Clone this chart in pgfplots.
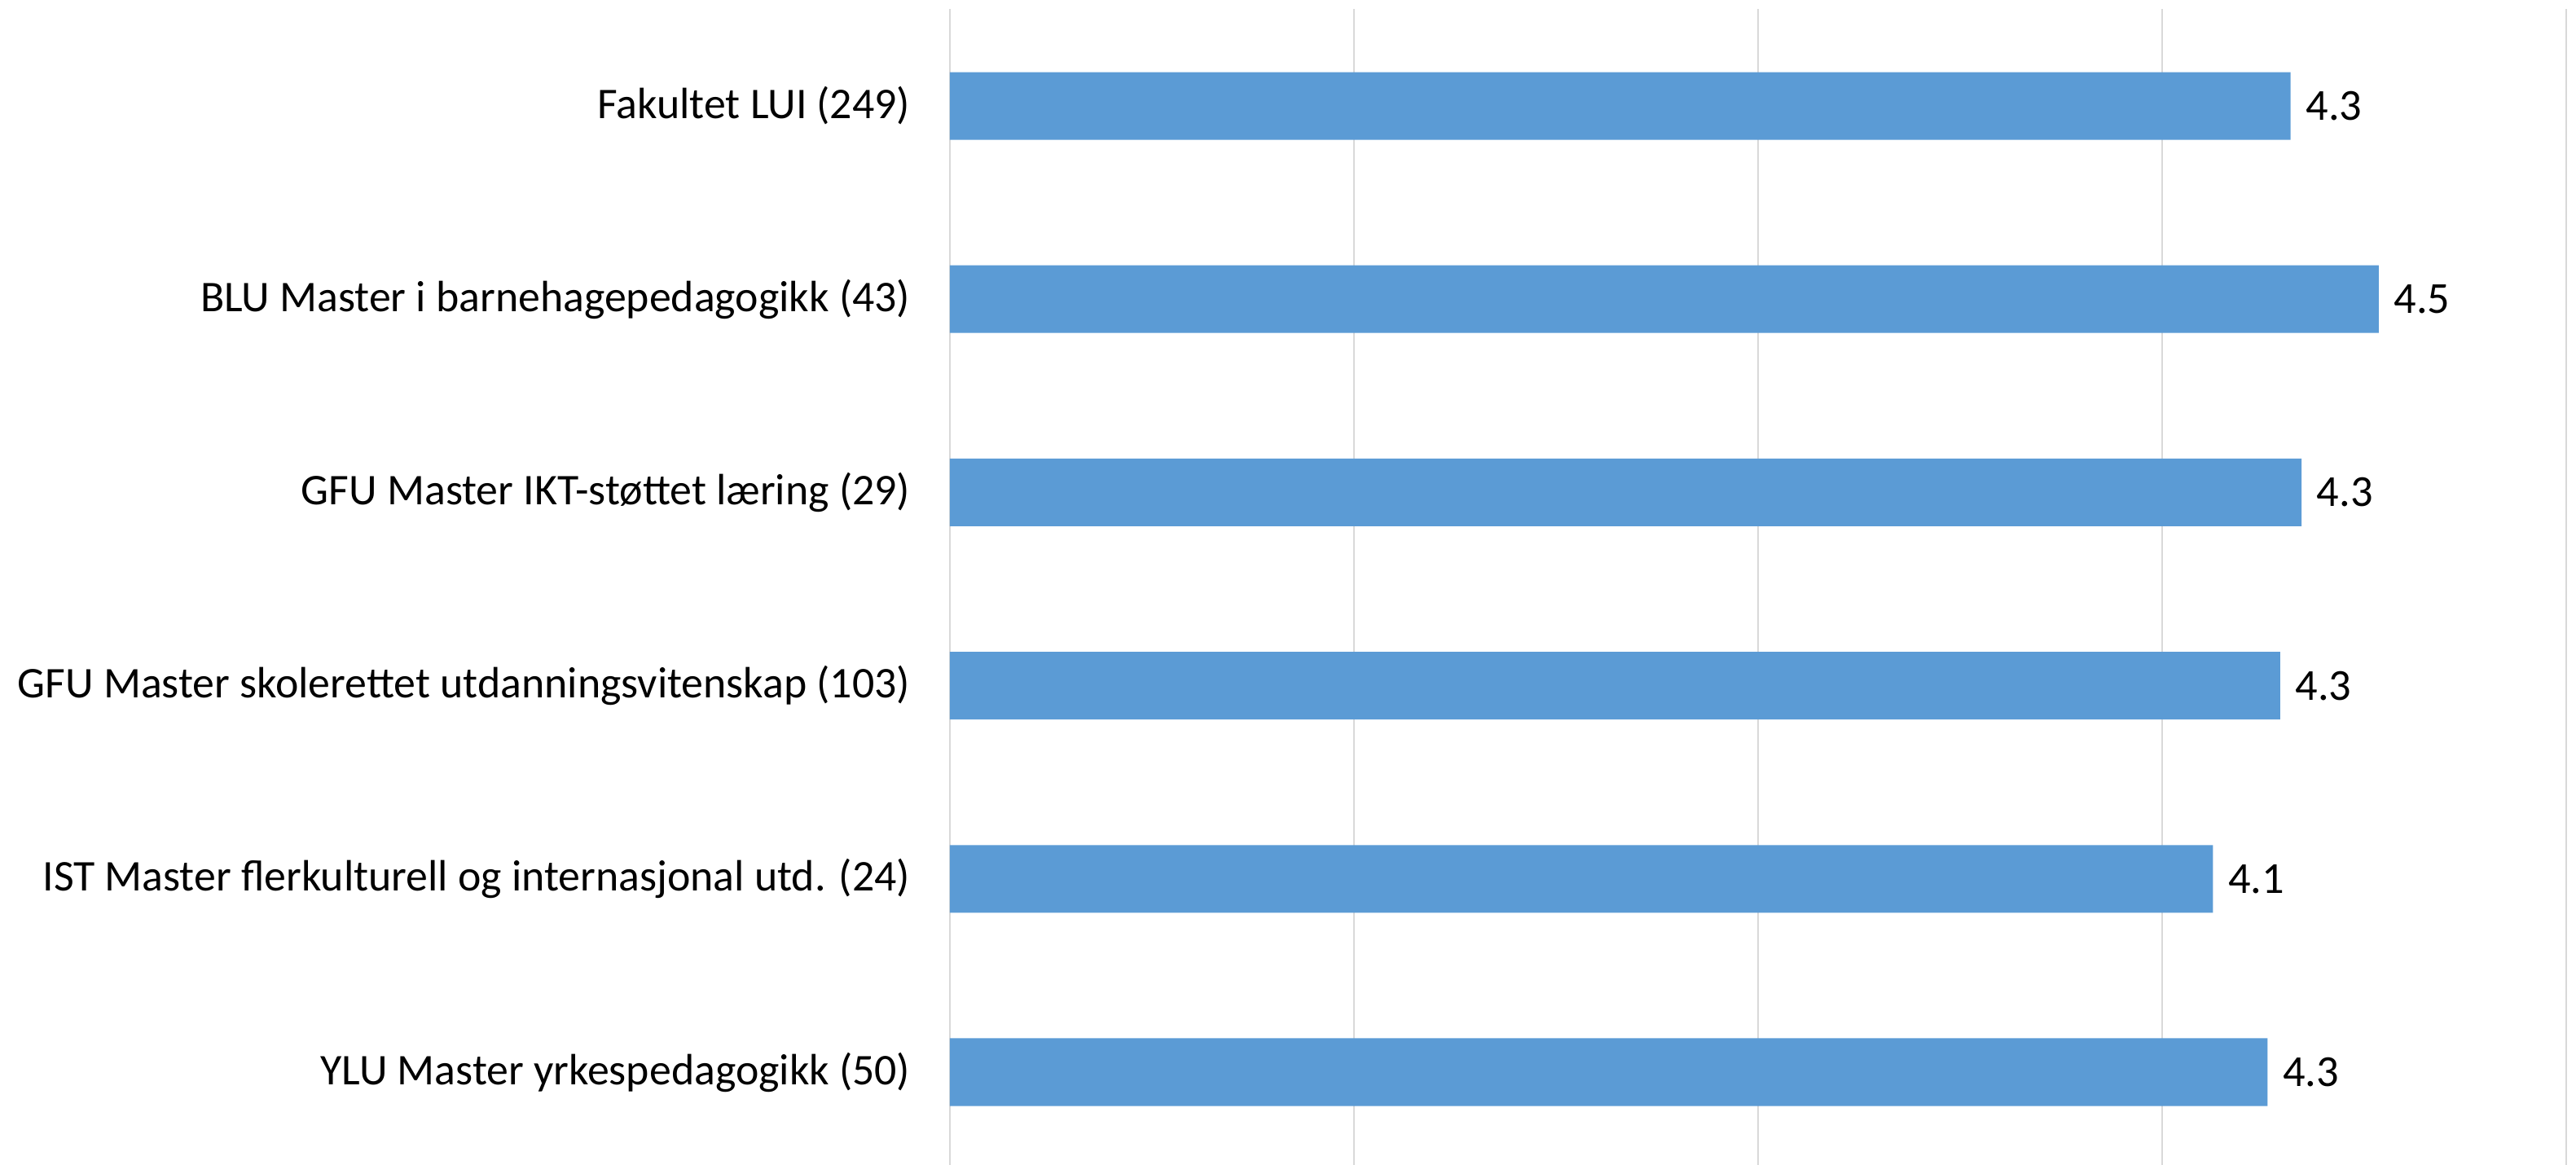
\documentclass[border=0pt]{standalone}
\usepackage{fontspec}
\setmainfont{Carlito}
\usepackage{pgfplots}
\pgfplotsset{compat=1.18}
\definecolor{barblue}{HTML}{5B9BD5}
\definecolor{gridgray}{HTML}{D9D9D9}

\begin{document}
\begin{tikzpicture}
\useasboundingbox (-291.5pt,1.15pt) rectangle (499pt,358.65pt);
\begin{axis}[
    at={(0,0)}, anchor=south west,
    scale only axis,
    width=496pt, height=355.8pt,
    xbar, bar width=0.35,
    xmin=1, xmax=5,
    ymin=-0.5, ymax=5.5,
    y dir=reverse,
    xtick={1,2,3,4,5}, xticklabels={},
    ytick={0,1,2,3,4,5},
    yticklabels={
        Fakultet LUI (249),
        BLU Master i barnehagepedagogikk (43),
        GFU Master IKT-støttet læring (29),
        GFU Master skolerettet utdanningsvitenskap (103),
        IST Master flerkulturell og internasjonal utd. (24),
        YLU Master yrkespedagogikk (50)},
    yticklabel style={font=\fontsize{13.45}{16}\selectfont, inner sep=0pt, xshift=-12pt, anchor=east},
    major tick length=0pt,
    tick style={draw=none},
    axis line style={draw=none},
    xmajorgrids,
    grid style={gridgray, line width=0.6pt},
    nodes near coords,
    point meta=explicit symbolic,
    nodes near coords style={anchor=west, inner sep=0pt, xshift=4.5pt, font=\fontsize{13.6}{16}\selectfont, text=black},
]
% average scores per programme (bars start at 1)
\addplot[fill=barblue, draw=none] coordinates {
    (4.318,0) [4.3]
    (4.536,1) [4.5]
    (4.345,2) [4.3]
    (4.292,3) [4.3]
    (4.126,4) [4.1]
    (4.261,5) [4.3]
};
\end{axis}
\end{tikzpicture}
\end{document}
